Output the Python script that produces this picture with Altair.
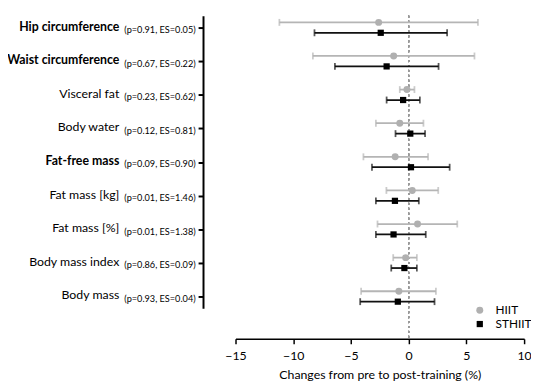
import altair as alt
import pandas as pd

names = ["Hip circumference", "Waist circumference", "Visceral fat", "Body water",
         "Fat-free mass", "Fat mass [kg]", "Fat mass [%]", "Body mass index", "Body mass"]
stats = ["(p=0.91, ES=0.05)", "(p=0.67, ES=0.22)", "(p=0.23, ES=0.62)", "(p=0.12, ES=0.81)",
         "(p=0.09, ES=0.90)", "(p=0.01, ES=1.46)", "(p=0.01, ES=1.38)", "(p=0.86, ES=0.09)",
         "(p=0.93, ES=0.04)"]
bold = [True, True, False, False, True, False, False, False, False]

hiit_mean = [-2.6, -1.3, -0.15, -0.77, -1.17, 0.31, 0.77, -0.26, -0.85]
hiit_lo = [-11.2, -8.3, -0.77, -2.84, -3.92, -1.93, -2.70, -1.34, -4.12]
hiit_hi = [6.0, 5.7, 0.5, 1.28, 1.68, 2.56, 4.21, 0.71, 2.36]
sthiit_mean = [-2.42, -1.91, -0.48, 0.14, 0.2, -1.19, -1.31, -0.37, -0.94]
sthiit_lo = [-8.16, -6.39, -1.91, -1.14, -3.18, -2.84, -2.84, -1.51, -4.2]
sthiit_hi = [3.33, 2.59, 0.97, 1.42, 3.55, 0.88, 1.48, 0.71, 2.24]

groups = ["HIIT", "STHIIT"]
x_ticks = [-15, -10, -5, 0, 5, 10]
x_title = "Changes from pre to post-training (%)"

FONT = "Lato"
W, H = 293, 297
n = len(names)

rows = []
for i in range(n):
    rows.append({"idx": i, "name": names[i], "group": "HIIT", "pos": i - 0.155,
                 "mean": hiit_mean[i], "lo": hiit_lo[i], "hi": hiit_hi[i]})
    rows.append({"idx": i, "name": names[i], "group": "STHIIT", "pos": i + 0.155,
                 "mean": sthiit_mean[i], "lo": sthiit_lo[i], "hi": sthiit_hi[i]})
df = pd.DataFrame(rows)
lab = pd.DataFrame({"idx": list(range(n)), "name": names, "stat": stats,
                    "isbold": bold})

xscale = alt.Scale(domain=[x_ticks[0], x_ticks[-1]], nice=False, zero=False, padding=0)
yscale = alt.Scale(domain=[-0.352, n - 1 + 0.352], reverse=True, nice=False, zero=False, padding=0)

stat_expr = "[" + ",".join("'" + s + "'" for s in stats) + "][datum.value]"

xaxis = alt.Axis(values=x_ticks, offset=31, grid=False, tickSize=5, tickWidth=1.5,
                 domainWidth=1.5, domainColor="black", tickColor="black",
                 labelFont=FONT, labelFontSize=12.5, labelColor="black", labelPadding=6,
                 labelFlush=False, labelBound=False, labelOverlap=False,
                 title=x_title, titleFont=FONT, titleFontSize=12.5, titleFontWeight="normal",
                 titleColor="black", titlePadding=7)
yaxis = alt.Axis(values=list(range(n)), labelExpr=stat_expr, offset=33, grid=False,
                 tickSize=5, tickWidth=2, domainWidth=2, domainColor="black", tickColor="black",
                 labelFont=FONT, labelFontSize=9.3, labelColor="black", labelPadding=3,
                 labelOffset=2, labelOverlap=False, labelBound=False, labelFlush=False,
                 title=None)


def X(field):
    return alt.X(field, scale=xscale, axis=xaxis)


def Y(field):
    return alt.Y(field, scale=yscale, axis=yaxis)


base = alt.Chart(df)

zero = alt.Chart(df).mark_rule(color="#999999", strokeDash=[2, 3], strokeWidth=1).encode(
    x=alt.datum(0, scale=xscale, axis=xaxis, type="quantitative"),
    y=alt.value(0), y2=alt.value(H + 31))

layers = [zero]
colors = {"HIIT": "#b5b5b5", "STHIIT": "#111111"}
for g in groups:
    sub = base.transform_filter(alt.datum.group == g)
    layers.append(sub.mark_rule(color=colors[g], strokeWidth=1.8).encode(
        x=X("lo:Q"), x2="hi:Q", y=Y("pos:Q")))
    for end in ["lo", "hi"]:
        layers.append(sub.mark_tick(color=colors[g], orient="vertical", size=7, thickness=1.8).encode(
            x=X(end + ":Q"), y=Y("pos:Q")))

points = base.mark_point(filled=True, opacity=1).encode(
    x=X("mean:Q"),
    y=Y("pos:Q"),
    color=alt.Color("group:N", scale=alt.Scale(domain=groups, range=["#b0b0b0", "#000000"]),
                    legend=alt.Legend(title=None, orient="none", legendX=242, legendY=293,
                                      labelFont=FONT, labelFontSize=12, labelColor="black",
                                      symbolSize=50, rowPadding=2, labelOffset=10, padding=0)),
    shape=alt.Shape("group:N", scale=alt.Scale(domain=groups, range=["circle", "square"])),
    size=alt.Size("group:N", scale=alt.Scale(domain=groups, range=[50, 40]), legend=None))
layers.append(points)

for isb, wt in [(True, "bold"), (False, "normal")]:
    layers.append(alt.Chart(lab).transform_filter(alt.datum.isbold == isb).mark_text(
        align="right", baseline="middle", font=FONT, fontSize=12.5, fontWeight=wt,
        color="black", dy=-1).encode(
        x=alt.value(-118),
        y=Y("idx:Q"),
        text="name:N"))

chart = alt.layer(*layers).properties(
    width=W, height=H,
    background="white",
    autosize=alt.AutoSizeParams(type="none"),
    padding={"left": 231, "top": 5, "right": 7, "bottom": 74},
).configure_view(stroke=None).configure_axisY(labelOverlap=False)

chart.save("out.html", embed_options={"renderer": "svg", "actions": False})
